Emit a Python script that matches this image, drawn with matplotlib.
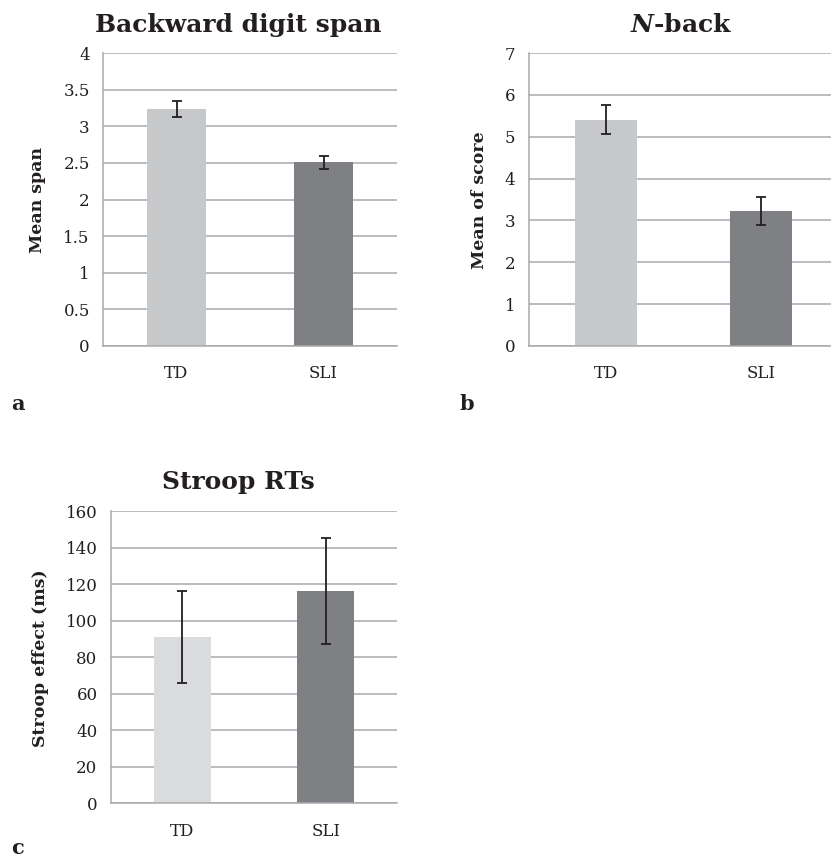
import matplotlib
matplotlib.use("Agg")
import matplotlib.pyplot as plt
import numpy as np

plt.rcParams['font.family'] = ['DejaVu Serif']
plt.rcParams['mathtext.fontset'] = 'custom'
plt.rcParams['mathtext.it'] = 'DejaVu Serif:italic:bold'
plt.rcParams['mathtext.rm'] = 'DejaVu Serif:bold'

groups = ["TD", "SLI"]

span_means = [3.24, 2.51]
span_errs = [0.11, 0.09]
span_ticks = [0, 0.5, 1, 1.5, 2, 2.5, 3, 3.5, 4]
span_ticklabels = ["0", "0.5", "1", "1.5", "2", "2.5", "3", "3.5", "4"]

nback_means = [5.41, 3.23]
nback_errs = [0.34, 0.34]
nback_ticks = [0, 1, 2, 3, 4, 5, 6, 7]

stroop_means = [90.9, 116.2]
stroop_errs = [25.2, 29.2]
stroop_ticks = [0, 20, 40, 60, 80, 100, 120, 140, 160]

W, H = 831, 858
fig = plt.figure(figsize=(W / 100, H / 100), dpi=100)

GRID = "#A8A9AD"
ERR = "#231F20"


def px_axes(x0, x1, ytop, ybot):
    return fig.add_axes([x0 / W, 1 - ybot / H, (x1 - x0) / W, (ybot - ytop) / H])


def draw(ax, means, errs, ticks, ticklabels, colors, ymax):
    x = np.arange(len(groups))
    ax.bar(x, means, width=0.4, color=colors, zorder=2)
    ax.errorbar(x, means, yerr=errs, fmt='none', ecolor=ERR, elinewidth=1.3,
                capsize=3.8, capthick=1.3, zorder=3)
    ax.set_xlim(-0.5, 1.5)
    ax.set_ylim(0, ymax)
    ax.set_yticks(ticks)
    ax.set_yticklabels(ticklabels)
    ax.set_xticks(x)
    ax.set_xticklabels(groups)
    ax.yaxis.grid(True, color=GRID, linewidth=1.1, zorder=0)
    ax.set_axisbelow(True)
    for s in ['top', 'right']:
        ax.spines[s].set_visible(False)
    for s in ['left', 'bottom']:
        ax.spines[s].set_color(GRID)
        ax.spines[s].set_linewidth(1.1)
    ax.tick_params(axis='y', length=0, pad=9.5, labelsize=12, labelcolor='#231F20')
    ax.tick_params(axis='x', length=0, pad=14, labelsize=12, labelcolor='#231F20')


# Panel a
axa = px_axes(103, 397, 53, 346)
draw(axa, span_means, span_errs, span_ticks, span_ticklabels, ["#C7C8CA", "#7F8084"], 4)
fig.text(238 / W, 1 - 31.7 / H, "Backward digit span", ha='center', va='baseline',
         fontsize=18, fontweight='bold', color='#231F20')
fig.text(38 / W, 1 - 200 / H, "Mean span", rotation=90, ha='center', va='center',
         fontsize=12.5, fontweight='bold', color='#231F20')
fig.text(18 / W, 1 - 410 / H, "a", ha='center', va='baseline', fontsize=15,
         fontweight='bold', color='#231F20')

# Panel b
axb = px_axes(528.7, 838.8, 53, 346)
draw(axb, nback_means, nback_errs, nback_ticks, [str(t) for t in nback_ticks],
     ["#C7C8CA", "#7F8084"], 7)
fig.text(681 / W, 1 - 31.7 / H, "$N$-back", ha='center', va='baseline',
         fontsize=18, fontweight='bold', color='#231F20')
fig.text(480 / W, 1 - 200 / H, "Mean of score", rotation=90, ha='center', va='center',
         fontsize=12.5, fontweight='bold', color='#231F20')
fig.text(466.7 / W, 1 - 410 / H, "b", ha='center', va='baseline', fontsize=15,
         fontweight='bold', color='#231F20')

# Panel c
axc = px_axes(110.7, 397.3, 511, 803.3)
draw(axc, stroop_means, stroop_errs, stroop_ticks, [str(t) for t in stroop_ticks],
     ["#DADBDD", "#7F8084"], 160)
fig.text(238 / W, 1 - 489.3 / H, "Stroop RTs", ha='center', va='baseline',
         fontsize=18, fontweight='bold', color='#231F20')
fig.text(41 / W, 1 - 658 / H, "Stroop effect (ms)", rotation=90, ha='center', va='center',
         fontsize=12.5, fontweight='bold', color='#231F20')
fig.text(18 / W, 1 - 854 / H, "c", ha='center', va='baseline', fontsize=15,
         fontweight='bold', color='#231F20')

fig.savefig("out.png", dpi=100)
